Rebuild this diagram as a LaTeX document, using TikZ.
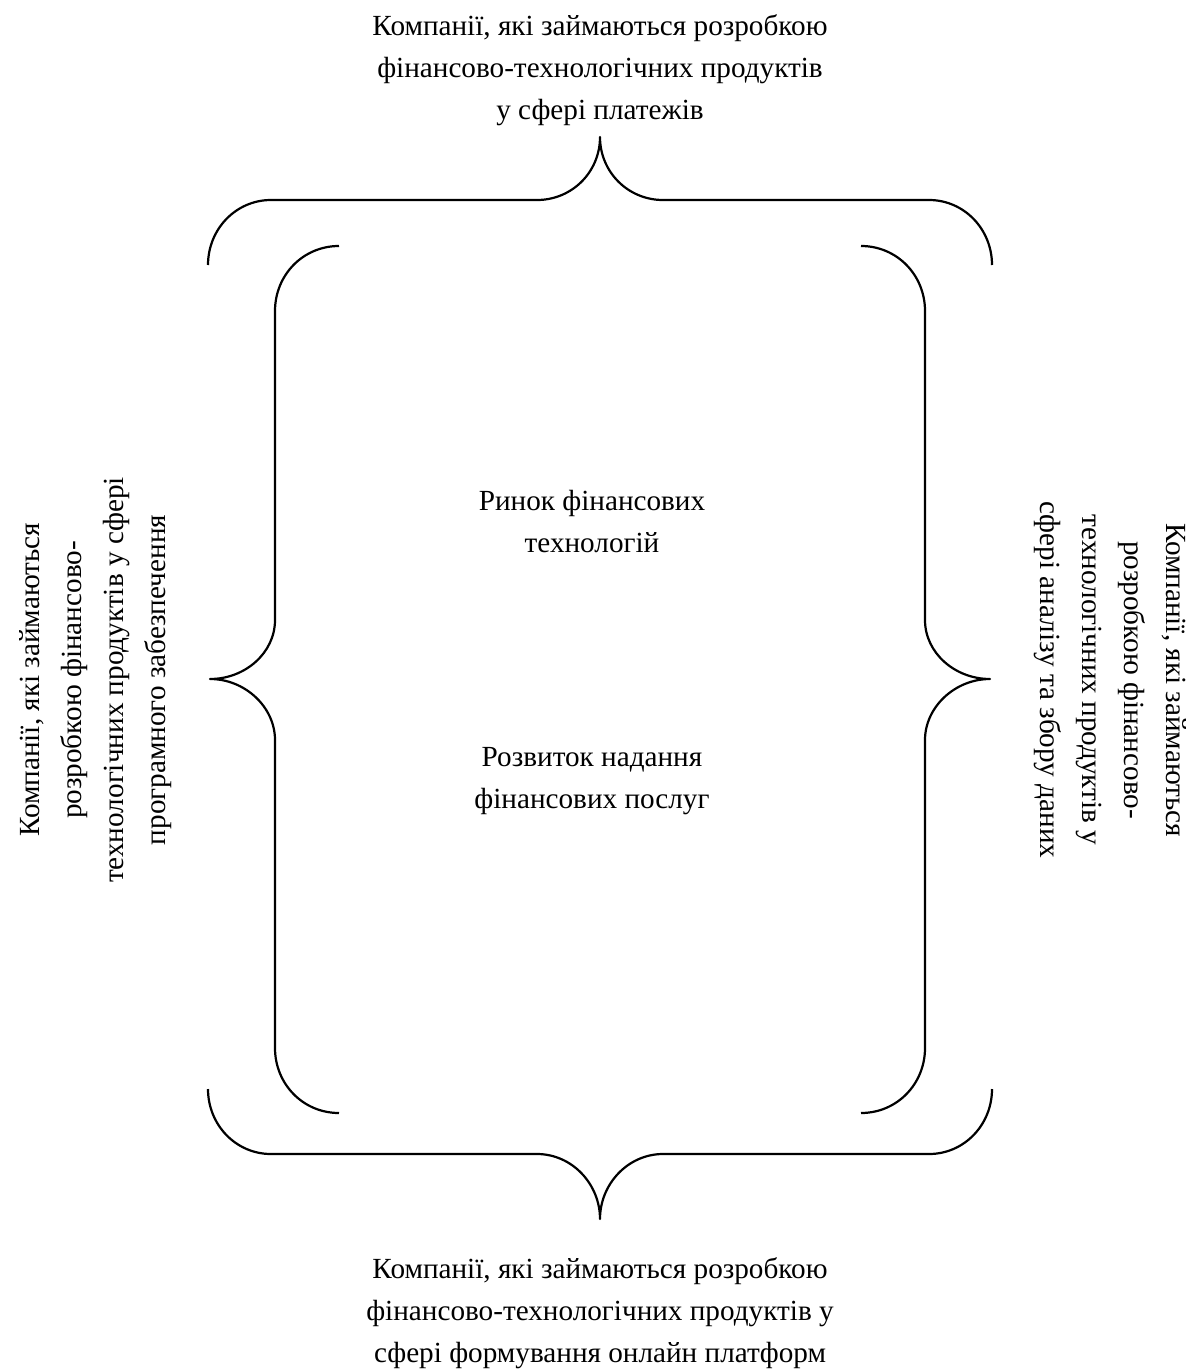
\documentclass[tikz,border=0pt]{standalone}
\usepackage{fontspec}
\setmainfont{Liberation Serif}

\begin{document}
\begin{tikzpicture}[x=0.5pt,y=-0.5pt,line join=round,
  brc/.style={line width=1.1pt},
  lbl/.style={align=center,inner sep=0pt,font=\fontsize{14.6}{21}\selectfont}]
\useasboundingbox (0,0) rectangle (1196,1371);

%% ---------------- outer braces: top and bottom ----------------
\draw[brc] (208,265) .. controls (208,229) and (236,200) .. (271,200)
   -- (537,200) .. controls (572,200) and (600,172) .. (600,137)
   .. controls (600,172) and (628,200) .. (663,200)
   -- (929,200) .. controls (964,200) and (992,229) .. (992,265);
\draw[brc] (208,1089) .. controls (208,1125) and (236,1154) .. (271,1154)
   -- (537,1154) .. controls (572,1154) and (600,1184) .. (600,1219)
   .. controls (600,1184) and (628,1154) .. (663,1154)
   -- (929,1154) .. controls (964,1154) and (992,1125) .. (992,1089);

%% ---------------- inner braces: left and right ----------------
\draw[brc] (339,246) .. controls (303,246) and (275,275) .. (275,311)
   -- (275,620) .. controls (275,653) and (245,679) .. (210,679)
   .. controls (245,679) and (275,707) .. (275,740)
   -- (275,1048) .. controls (275,1084) and (303,1113) .. (339,1113);
\draw[brc] (861,246) .. controls (897,246) and (925,275) .. (925,311)
   -- (925,620) .. controls (925,653) and (955,679) .. (990,679)
   .. controls (955,679) and (925,707) .. (925,740)
   -- (925,1048) .. controls (925,1084) and (897,1113) .. (861,1113);

%% ---------------- texts ----------------
\node[lbl] (payments) at (600,70)
   {Компанії, які займаються розробкою\\фінансово-технологічних продуктів\\у сфері платежів};
\node[lbl] (market) at (592,522) {Ринок фінансових\\технологій};
\node[lbl] (services) at (592,781) {Розвиток надання\\фінансових послуг};
\node[lbl] (platforms) at (600,1313)
   {Компанії, які займаються розробкою\\фінансово-технологічних продуктів у\\сфері формування онлайн платформ};
\node[lbl,rotate=90] (software) at (96,680)
   {Компанії, які займаються\\розробкою фінансово-\\технологічних продуктів у сфері\\програмного забезпечення};
\node[lbl,rotate=-90] (analytics) at (1110,680)
   {Компанії, які займаються\\розробкою фінансово-\\технологічних продуктів у\\сфері аналізу та збору даних};

\end{tikzpicture}
\end{document}
